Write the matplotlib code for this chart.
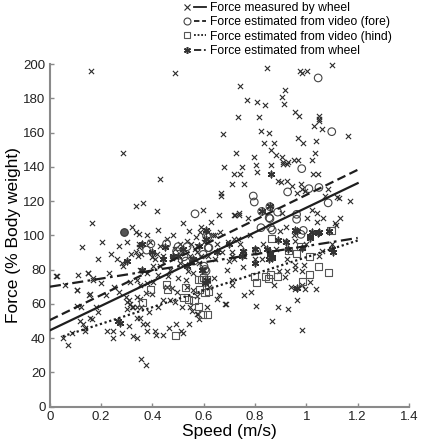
import matplotlib
matplotlib.use('Agg')
import matplotlib.pyplot as plt
from matplotlib.lines import Line2D
from matplotlib.legend_handler import HandlerTuple

plt.rcParams['font.family'] = ['Liberation Sans', 'DejaVu Sans']

# force measured by wheel (x markers)
wheel_speed = [
    0.159, 0.488, 0.286, 0.848, 0.975, 0.984, 1.004, 1.099, 0.741, 0.917, 0.904, 0.767, 0.806, 0.839, 0.914,
    0.735, 0.816, 0.956, 0.971, 1.049, 1.049, 1.049, 1.031, 1.062, 1.164, 0.676, 0.823, 0.855, 0.835, 0.875,
    0.862, 0.966, 0.986, 1.037, 0.724, 0.797, 0.883, 0.907, 0.953, 0.969, 0.910, 0.927, 1.034, 1.021,
    0.680, 0.750, 0.802, 0.862, 0.910, 0.923, 0.719, 0.741, 0.808, 0.888, 0.901, 0.923, 1.025, 1.044, 0.712,
    0.758, 0.943, 0.979, 0.984, 1.085, 0.669, 0.669, 0.962, 0.994, 1.072, 1.127, 0.598, 0.719, 0.737, 0.774,
    0.906, 1.021, 1.040, 1.001, 1.040, 1.066, 1.114, 0.897, 0.585, 0.644, 0.917, 0.956, 0.719, 0.734, 0.566,
    1.060, 0.758, 0.758, 0.800, 0.826, 0.711, 0.719, 0.923, 0.956, 0.992, 0.616, 0.644,
    0.429, 0.335, 0.362, 0.419, 0.166, 0.335, 0.346, 0.543, 0.124, 0.202, 0.270, 0.346, 0.346, 0.189, 0.238,
    0.315, 0.335, 0.344, 0.354, 0.280, 0.286, 0.397, 0.410, 0.486, 0.572,
    0.026, 0.110, 0.147, 0.169, 0.059, 0.107, 0.153, 0.104, 0.120, 0.180, 0.189, 0.117, 0.130, 0.137, 0.137,
    0.156, 0.163, 0.052, 0.071, 0.085, 0.224, 0.247, 0.245, 0.283, 0.325, 0.341, 0.309, 0.338, 0.351, 0.364,
    0.377, 0.299, 0.319, 0.341, 0.354, 0.387, 0.377, 0.410, 0.413, 0.442, 0.466, 0.492, 0.510, 0.518, 0.543,
    0.357, 0.374, 0.296, 0.309, 0.312, 0.338, 0.468, 0.488, 0.514, 0.548, 0.556, 0.572,
    0.689, 0.754, 0.709, 0.709, 0.758, 0.784, 0.650, 0.685, 0.802, 0.888, 0.927, 0.962, 0.867, 0.982, 0.611,
    0.578, 0.581, 0.875, 0.940, 0.956, 0.994, 1.014, 1.036, 0.984, 0.917, 0.956, 0.982, 0.923, 0.895,
    0.722, 0.738, 0.617, 0.637, 0.663, 0.695, 0.712, 0.683, 0.149, 0.023, 0.104, 0.156, 0.169, 0.312, 0.338,
    0.351, 0.377, 0.403, 0.302, 0.323, 0.351, 0.374, 0.455, 0.475, 0.494, 0.533, 0.559, 0.572, 0.403, 0.429,
    0.468, 0.507, 0.539, 0.416, 0.442, 0.475, 0.514, 0.546, 0.390, 0.429, 0.455, 0.507, 0.533, 0.572,
    0.520, 0.590, 0.630, 0.650, 0.670, 0.700, 0.740, 0.780, 0.830, 0.880, 0.920, 0.950, 1.000, 1.050, 1.100,
    1.130, 1.170, 0.660, 0.600, 0.620, 0.640, 0.660, 0.350, 0.380, 0.420, 0.460, 0.500, 0.530, 0.440, 0.420,
    0.400, 0.250, 0.270, 0.220, 0.200, 0.230, 0.260, 0.300, 0.320, 0.380, 0.420, 0.480, 0.550, 0.570, 0.590,
    0.600, 0.580, 0.560, 1.118, 1.112,
]
wheel_force = [
    196, 195, 148, 198, 196, 195, 196, 199.5, 187, 185, 181, 179, 178, 176, 177,
    169, 169, 172, 170, 170, 168, 167, 164, 162, 158, 159, 161, 160, 154, 154,
    150, 157, 154, 155, 148, 146, 147, 146, 144, 144, 143, 143, 148, 144,
    140, 140, 141, 141, 142, 142, 136, 136, 137, 132, 131, 132, 136, 136, 130,
    130, 129, 130, 127, 127, 125, 123, 125, 126, 123, 122, 115, 112, 113, 110,
    113, 115, 113, 110, 108, 110, 106, 102.5, 102, 100, 97, 97, 98, 98, 92,
    91, 90, 88, 86, 86, 88, 86, 86, 82.5, 82.5, 88, 86,
    133, 117, 119, 114, 107, 102, 101, 102.5, 93, 96, 94, 95, 93, 86, 89,
    89, 90, 88, 89, 84, 82, 87.5, 86, 92, 90,
    76, 77, 78, 74, 71, 68, 65, 59, 58, 58, 55, 50, 48, 46, 44,
    52, 51, 40, 36, 43, 44, 44, 40, 43, 41, 40, 47, 52, 51.5, 48,
    48, 57, 58, 58, 58, 55, 44, 44, 42, 42, 46, 48, 44, 43, 48,
    28, 24, 64, 62, 60, 64, 62, 61, 58, 58, 56, 54,
    79.5, 81.5, 74, 71, 65, 67, 63, 60, 59, 58, 57, 62, 50, 45, 58,
    54, 51, 71, 70, 68.7, 68.7, 72.6, 68.5, 71, 75.9, 80.4, 79.2, 79.2, 79,
    112, 112, 102, 100, 102, 96, 90, 60, 78, 76, 68, 65.5, 75, 73, 74,
    71, 72, 73, 61, 58, 63, 66.5, 70, 69, 67, 70, 68, 64.5, 82, 82,
    80, 84, 79, 89, 88, 87, 90, 88, 96, 94, 98, 95, 97, 94,
    107, 105, 108, 95, 90, 85, 95, 100, 95, 92, 105, 100, 95, 88, 95,
    110, 120, 112, 80, 70, 75, 65, 80, 78, 77, 76, 75, 74, 62, 58,
    66, 70, 67, 65, 72, 78, 86, 96, 105, 100, 103, 100, 95, 99, 88,
    96, 84, 78, 122.7, 107,
]

# force estimated from video, forelimb (open circles)
fore_speed = [
    0.566, 0.394, 0.455, 0.377, 0.500, 0.535, 0.494, 0.523, 0.530, 1.046, 1.099, 0.982, 1.049, 1.010, 0.927,
    0.793, 0.797, 1.085, 0.826, 0.858, 0.888, 0.962, 0.962, 0.858, 0.823, 0.867, 0.988, 0.979, 0.617, 0.620,
    0.806, 0.562, 0.598, 0.617, 0.605, 0.601, 0.855, 0.861, 0.611, 0.609,
]
fore_force = [
    112.6, 95.1, 95.1, 91.4, 93.4, 93.4, 90.8, 87.5, 85, 192, 160.6, 139, 128, 127.3, 125.4,
    123, 119.5, 119, 114, 116.8, 113.6, 112.3, 109.4, 109.8, 104.5, 103.1, 102.9, 100.6, 99.2, 92.8,
    90.8, 85, 88.9, 92.8, 80.1, 82, 110.3, 104.5, 99.6, 79.1,
]
fore_dark_speed = [0.289]
fore_dark_force = [102.2]

# force estimated from video, hindlimb (open squares)
hind_speed = [
    0.455, 0.459, 0.530, 0.523, 0.539, 0.562, 0.361, 0.489, 0.797, 0.807, 0.841, 0.862, 0.854, 0.888, 1.014,
    0.984, 1.049, 1.088, 0.865, 0.930, 0.979, 1.014, 0.962, 1.096, 0.615, 0.578, 0.598, 0.585, 0.605, 0.594,
    0.578, 0.393, 0.591, 0.611, 0.617,
]
hind_force = [
    71.3, 68.4, 69.4, 63.6, 62.6, 62.2, 61, 41.7, 75.8, 72.7, 76.2, 77.2, 74.9, 76.2, 77.2,
    73.3, 82, 78.2, 98.4, 91.4, 93.4, 87.5, 89.3, 103.1, 53.8, 74.3, 75.3, 68.4, 66.5, 53.8,
    58.7, 68.4, 74.3, 74.3, 67.4,
]

# force estimated from wheel (asterisks)
est_speed = [
    0.858, 0.962, 1.014, 1.047, 1.090, 0.890, 0.930, 0.982, 1.103, 0.754, 0.800, 0.858, 0.865, 0.962, 0.614,
    0.605, 0.592, 0.580, 0.610, 0.610, 0.442, 0.481, 0.533, 0.559, 0.845, 0.858, 0.867, 0.854, 0.267, 0.273,
    0.862, 0.826, 0.956, 1.021, 1.049, 1.014, 1.099, 0.360, 0.400, 0.450, 0.500, 0.520, 0.650, 0.700, 0.750,
    0.800, 0.920, 0.360, 0.300,
]
est_force = [
    117, 102.5, 99.6, 101.6, 102.5, 97.3, 91.8, 92.8, 90, 90.8, 84, 89, 87, 69, 74,
    72, 80, 94, 103, 98, 86, 88, 82, 86, 92, 90, 87.5, 86, 50, 49,
    136, 114, 103, 102, 102, 98.6, 92, 95, 90, 93, 88, 92, 90, 95, 88,
    92, 96, 80, 85,
]

# regression lines: (x start, x end), (y start, y end)
fit_wheel = ([0.0, 1.2], [44.5, 130.5])
fit_fore = ([0.0, 1.2], [50.5, 138.3])
fit_hind = ([0.05, 1.2], [41.0, 97.0])
fit_est = ([0.0, 1.2], [70.0, 98.5])

labels = ['Force measured by wheel', 'Force estimated from video (fore)',
          'Force estimated from video (hind)', 'Force estimated from wheel']

fig = plt.figure(figsize=(4.26, 4.48), dpi=100)
ax = fig.add_axes([0.117, 0.0926, 0.843, 0.764])

ax.scatter(wheel_speed, wheel_force, marker='x', s=14, c='#2b2b2b', linewidths=0.8, zorder=2, clip_on=False)
ax.scatter(fore_speed, fore_force, marker='o', s=30, facecolors='none', edgecolors='#444444', linewidths=0.8, zorder=3)
ax.scatter(fore_dark_speed, fore_dark_force, marker='o', s=30, c='#555555', edgecolors='#333333', linewidths=0.8, zorder=3)
ax.scatter(hind_speed, hind_force, marker='s', s=26, facecolors='none', edgecolors='#555555', linewidths=0.8, zorder=3)
ax.scatter(est_speed, est_force, marker=(6, 2, 0), s=22, c='#333333', linewidths=1.1, zorder=3)

lc = '#1e1e1e'
ax.plot(fit_wheel[0], fit_wheel[1], color=lc, lw=1.6, ls='-', zorder=4)
ax.plot(fit_fore[0], fit_fore[1], color=lc, lw=1.6, ls=(0, (4, 2)), zorder=4)
ax.plot(fit_hind[0], fit_hind[1], color=lc, lw=1.6, ls=(0, (1, 1.2)), zorder=4)
ax.plot(fit_est[0], fit_est[1], color=lc, lw=1.6, ls=(0, (5, 2, 1.2, 2)), zorder=4)

ax.set_xlim(0, 1.4)
ax.set_ylim(0, 200)
ax.set_xticks([0, 0.2, 0.4, 0.6, 0.8, 1, 1.2, 1.4])
ax.set_xticklabels(['0', '0.2', '0.4', '0.6', '0.8', '1', '1.2', '1.4'])
ax.set_yticks(range(0, 201, 20))
for s in ['top', 'right']:
    ax.spines[s].set_visible(False)
for s in ['left', 'bottom']:
    ax.spines[s].set_color('#8a8a8a')
    ax.spines[s].set_linewidth(1.5)
ax.tick_params(direction='in', length=3, width=1, color='#8a8a8a', labelsize=9.5, labelcolor='#222222', pad=3)
ax.set_xlabel('Speed (m/s)', fontsize=12.5, labelpad=1)
ax.set_ylabel('Force (% Body weight)', fontsize=12.5, labelpad=2)

mk_w = Line2D([], [], marker='x', ls='none', color='#2b2b2b', ms=4, mew=0.8)
mk_f = Line2D([], [], marker='o', ls='none', mfc='none', mec='#444444', ms=5, mew=0.8)
mk_h = Line2D([], [], marker='s', ls='none', mfc='none', mec='#555555', ms=4.5, mew=0.8)
mk_e = Line2D([], [], marker=(6, 2, 0), ls='none', color='#333333', ms=5, mew=1.1)
ln_w = Line2D([], [], color=lc, lw=1.3, ls='-')
ln_f = Line2D([], [], color=lc, lw=1.3, ls=(0, (3, 1.5)))
ln_h = Line2D([], [], color=lc, lw=1.3, ls=(0, (1, 1)))
ln_e = Line2D([], [], color=lc, lw=1.3, ls=(0, (4, 1.5, 1, 1.5)))
fig.legend([(mk_w, ln_w), (mk_f, ln_f), (mk_h, ln_h), (mk_e, ln_e)], labels,
           handler_map={tuple: HandlerTuple(ndivide=None, pad=0.0)},
           loc='upper left', bbox_to_anchor=(0.408, 1.012), frameon=False,
           fontsize=8.7, handlelength=2.1, handletextpad=0.3, labelspacing=0.2, borderpad=0.1)

fig.savefig('out.png', dpi=100)
